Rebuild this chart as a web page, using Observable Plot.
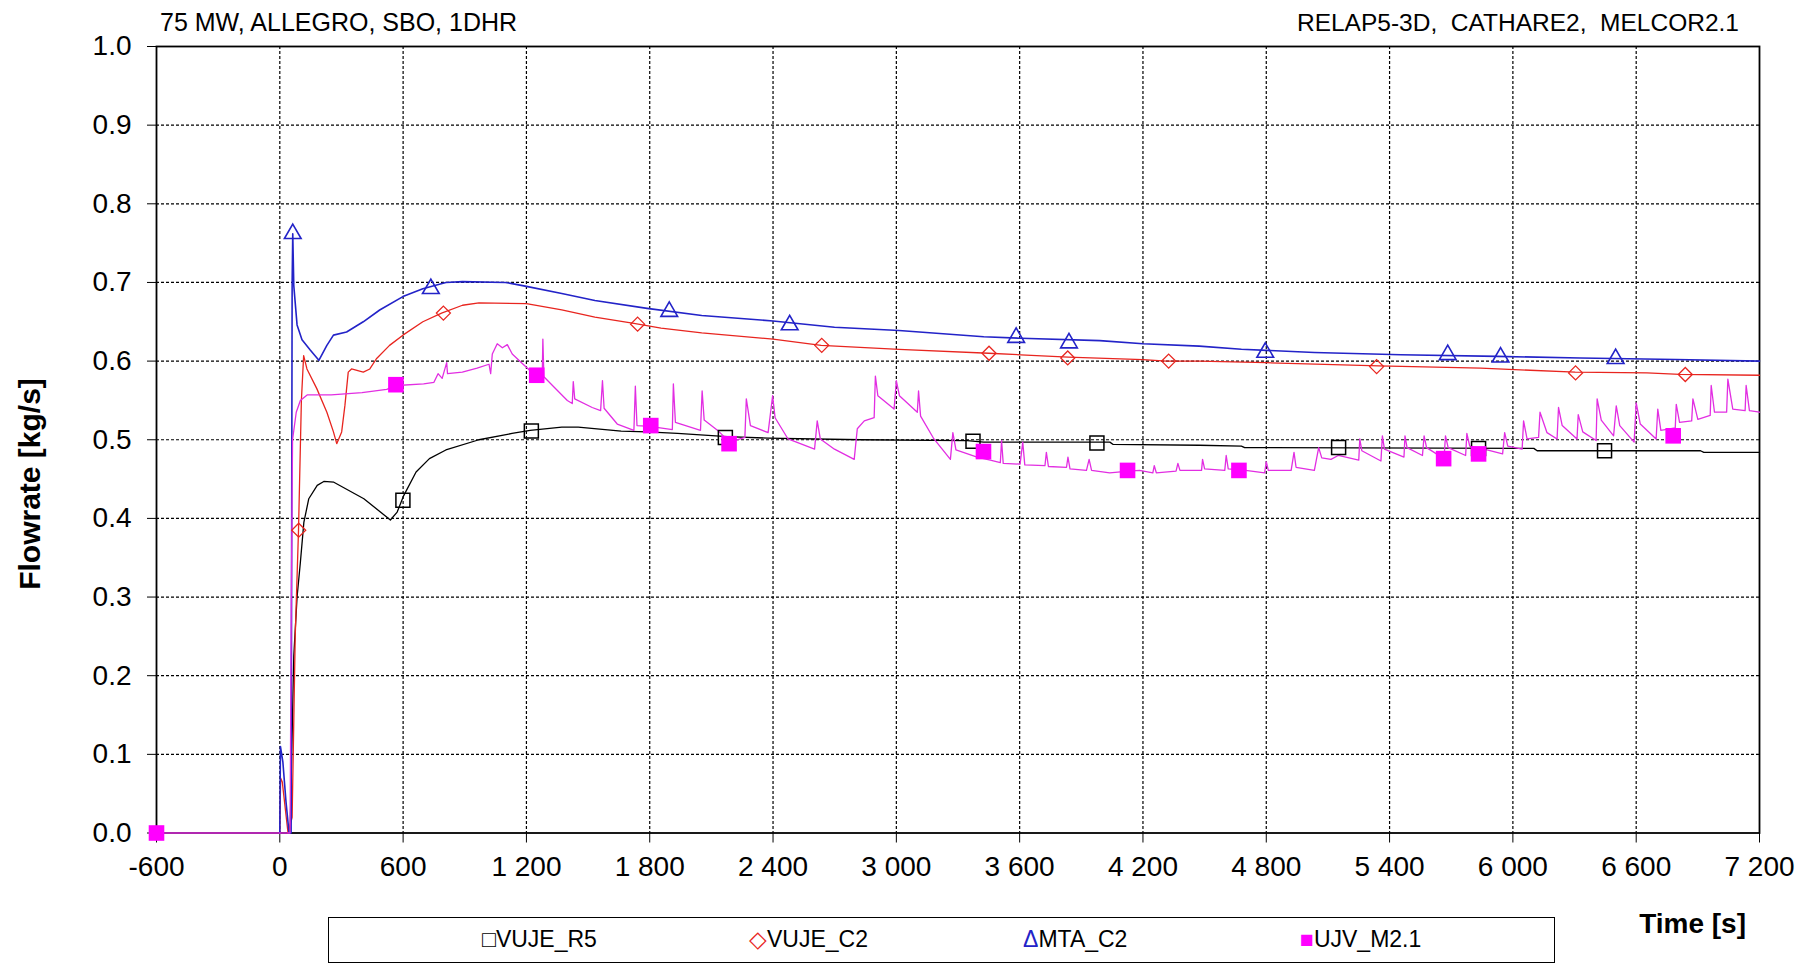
<!DOCTYPE html>
<html>
<head>
<meta charset="utf-8">
<script src="https://cdn.jsdelivr.net/npm/d3@7"></script>
<script src="https://cdn.jsdelivr.net/npm/@observablehq/plot@0.6"></script>
<style>
  html, body { margin: 0; padding: 0; background: #fff; }
  #wrap { position: relative; width: 1813px; height: 964px; overflow: hidden; font-family: "Liberation Sans", Arial, sans-serif; color: #000; }
  #wrap svg { position: absolute; left: 0; top: 0; }
  .lbl { position: absolute; white-space: pre; }
</style>
</head>
<body>
<div id="wrap"></div>
<script>
// ---- data (time [s], flowrate [kg/s]) ----
const xTicks = [-600, 0, 600, 1200, 1800, 2400, 3000, 3600, 4200, 4800, 5400, 6000, 6600, 7200];
const yTicks = [0, 0.1, 0.2, 0.3, 0.4, 0.5, 0.6, 0.7, 0.8, 0.9, 1.0];
const seriesNames = ["VUJE_R5", "VUJE_C2", "MTA_C2", "UJV_M2.1"];
const seriesColors = ["#000000", "#e8251f", "#2323c8", "#e22ee2"];

const VUJE_R5 = [[0,0],[50,0],[58,0.1],[68,0.225],[84,0.30],[100,0.344],[117,0.395],[141,0.425],[182,0.442],[214,0.447],[263,0.446],[409,0.425],[538,0.398],[571,0.408],[603,0.429],[663,0.459],[728,0.476],[808,0.487],[969,0.500],[1130,0.508],[1218,0.512],[1372,0.516],[1452,0.516],[1661,0.511],[1787,0.510],[1935,0.508],[2177,0.504],[2376,0.502],[2828,0.500],[3345,0.499],[3425,0.497],[4039,0.497],[4055,0.494],[4474,0.493],[4679,0.492],[4695,0.490],[6102,0.489],[6118,0.486],[6913,0.486],[6929,0.484],[7200,0.484]];
const VUJE_C2 = [[0,0],[4,0.07],[12,0.065],[40,0.0],[60,0.02],[75,0.25],[91,0.385],[105,0.55],[116,0.607],[132,0.590],[180,0.565],[229,0.535],[261,0.510],[277,0.495],[301,0.510],[317,0.544],[333,0.586],[349,0.590],[406,0.586],[438,0.590],[470,0.603],[534,0.620],[599,0.633],[696,0.650],[787,0.661],[889,0.671],[969,0.674],[1200,0.673],[1372,0.665],[1533,0.656],[1723,0.648],[1855,0.642],[2053,0.636],[2400,0.628],[2634,0.620],[3013,0.615],[3449,0.610],[3606,0.608],[3836,0.605],[4200,0.602],[4313,0.600],[4474,0.600],[4800,0.598],[5347,0.594],[5843,0.591],[6303,0.586],[6652,0.585],[6813,0.583],[7200,0.582]];
const MTA_C2 = [[0,0],[3,0.11],[15,0.09],[30,0.04],[45,0.0],[55,0.0],[60,0.70],[63,0.762],[68,0.696],[84,0.646],[108,0.627],[148,0.614],[190,0.601],[229,0.620],[261,0.633],[325,0.637],[406,0.650],[486,0.665],[599,0.682],[696,0.692],[808,0.700],[889,0.701],[1098,0.700],[1200,0.695],[1372,0.686],[1533,0.677],[1787,0.667],[2053,0.658],[2400,0.651],[2699,0.643],[3013,0.639],[3425,0.631],[3606,0.629],[3990,0.626],[4200,0.622],[4474,0.619],[4679,0.615],[5034,0.611],[5455,0.608],[5924,0.606],[6328,0.604],[6792,0.602],[7200,0.600]];
const UJV_M21 = [[-600,0],[50,0],[56,0.30],[62,0.50],[80,0.535],[100,0.550],[133,0.557],[250,0.557],[400,0.560],[520,0.564],[571,0.569],[700,0.571],[750,0.573],[770,0.584],[790,0.578],[812,0.598],[816,0.584],[888,0.586],[960,0.591],[1018,0.596],[1026,0.584],[1034,0.609],[1058,0.622],[1083,0.617],[1107,0.621],[1131,0.609],[1180,0.597],[1242,0.582],[1277,0.582],[1280,0.628],[1285,0.580],[1334,0.567],[1399,0.550],[1423,0.546],[1428,0.574],[1435,0.552],[1520,0.541],[1561,0.537],[1570,0.575],[1578,0.540],[1642,0.520],[1723,0.512],[1730,0.568],[1738,0.518],[1800,0.517],[1910,0.513],[1915,0.571],[1925,0.522],[2047,0.512],[2055,0.562],[2065,0.525],[2134,0.511],[2190,0.497],[2263,0.503],[2270,0.552],[2290,0.518],[2376,0.509],[2398,0.556],[2410,0.528],[2473,0.501],[2602,0.488],[2615,0.524],[2630,0.501],[2699,0.488],[2795,0.475],[2810,0.514],[2844,0.524],[2892,0.528],[2898,0.581],[2910,0.556],[2989,0.539],[3000,0.575],[3015,0.556],[3102,0.535],[3108,0.562],[3118,0.530],[3183,0.501],[3263,0.475],[3275,0.509],[3290,0.487],[3393,0.478],[3457,0.474],[3506,0.471],[3512,0.499],[3520,0.470],[3602,0.469],[3615,0.497],[3625,0.468],[3723,0.467],[3730,0.484],[3740,0.466],[3828,0.465],[3835,0.478],[3845,0.463],[3925,0.461],[3938,0.475],[3950,0.461],[4038,0.458],[4130,0.460],[4183,0.461],[4248,0.458],[4255,0.467],[4265,0.458],[4361,0.460],[4370,0.470],[4380,0.461],[4485,0.461],[4490,0.475],[4500,0.463],[4598,0.461],[4605,0.480],[4615,0.463],[4700,0.461],[4792,0.458],[4800,0.472],[4810,0.461],[4921,0.461],[4935,0.484],[4945,0.465],[5034,0.461],[5055,0.490],[5070,0.477],[5115,0.475],[5150,0.480],[5250,0.474],[5255,0.501],[5265,0.486],[5358,0.473],[5365,0.505],[5375,0.488],[5470,0.478],[5475,0.505],[5485,0.490],[5560,0.480],[5568,0.505],[5580,0.490],[5665,0.476],[5672,0.505],[5685,0.490],[5770,0.480],[5776,0.508],[5790,0.492],[5860,0.488],[5950,0.482],[5960,0.509],[5975,0.492],[6045,0.488],[6052,0.524],[6069,0.501],[6125,0.503],[6132,0.535],[6166,0.509],[6215,0.501],[6222,0.541],[6240,0.518],[6312,0.501],[6318,0.532],[6340,0.510],[6405,0.499],[6410,0.552],[6430,0.525],[6490,0.505],[6503,0.543],[6520,0.518],[6590,0.497],[6600,0.547],[6620,0.520],[6697,0.501],[6705,0.539],[6720,0.512],[6790,0.515],[6795,0.545],[6811,0.522],[6870,0.524],[6876,0.552],[6900,0.526],[6960,0.531],[6965,0.569],[6981,0.535],[7040,0.535],[7046,0.577],[7070,0.539],[7130,0.537],[7135,0.569],[7151,0.537],[7200,0.535]];

// marker positions
const VUJE_R5_marks = [[599,0.423],[1224,0.511],[2168,0.503],[3373,0.498],[3976,0.496],[5152,0.490],[5833,0.489],[6446,0.486]];
const VUJE_C2_marks = [[92,0.385],[796,0.661],[1741,0.647],[2637,0.620],[3451,0.610],[3834,0.604],[4325,0.600],[5337,0.593],[6305,0.585],[6839,0.583]];
const MTA_C2_marks = [[63,0.762],[735,0.692],[1895,0.663],[2481,0.646],[3583,0.630],[3840,0.623],[4795,0.611],[5683,0.608],[5940,0.605],[6500,0.603]];
const UJV_M21_marks = [[-600,0],[565,0.570],[1250,0.582],[1805,0.518],[2186,0.495],[3424,0.485],[4125,0.461],[4667,0.461],[5663,0.476],[5833,0.482],[6780,0.505]];

// ---- build ----
const fmtX = d => String(d).replace(/\B(?=(\d{3})+(?!\d))/g, " ");
const fmtY = d => d.toFixed(1);
const toRows = arr => arr.map(([t, v]) => ({t, v}));
const xGrid = xTicks.filter(d => d !== xTicks[0] && d !== xTicks[xTicks.length - 1]);
const yGrid = yTicks.filter(d => d !== yTicks[0] && d !== yTicks[yTicks.length - 1]);

const lineStyle = {x: "t", y: "v", strokeWidth: 1.4, strokeLinejoin: "round"};

const chart = Plot.plot({
  width: 1813,
  height: 964,
  marginTop: 46,
  marginRight: 54,
  marginBottom: 131.5,
  marginLeft: 156,
  style: {fontFamily: '"Liberation Sans", Arial, sans-serif', fontSize: "28px", background: "transparent", color: "#000"},
  x: {domain: [xTicks[0], xTicks[xTicks.length - 1]], ticks: xTicks, tickFormat: fmtX, tickSize: 10, tickPadding: 13, label: null},
  y: {domain: [yTicks[0], yTicks[yTicks.length - 1]], ticks: yTicks, tickFormat: fmtY, tickSize: 9, tickPadding: 16, label: null},
  marks: [
    Plot.ruleX(xGrid, {stroke: "#000", strokeWidth: 1.2, strokeDasharray: "3,2"}),
    Plot.ruleY(yGrid, {stroke: "#000", strokeWidth: 1.2, strokeDasharray: "3,2"}),
    Plot.frame({stroke: "#000", strokeWidth: 1.8}),
    Plot.line(toRows(VUJE_R5), {...lineStyle, stroke: seriesColors[0], strokeWidth: 1.3}),
    Plot.line(toRows(VUJE_C2), {...lineStyle, stroke: seriesColors[1], strokeWidth: 1.3}),
    Plot.line(toRows(MTA_C2), {...lineStyle, stroke: seriesColors[2], strokeWidth: 1.6}),
    Plot.line(toRows(UJV_M21), {...lineStyle, stroke: seriesColors[3], strokeWidth: 1.3}),
    Plot.dot(toRows(VUJE_R5_marks), {x: "t", y: "v", symbol: "square", r: 7.9, stroke: seriesColors[0], fill: "none", strokeWidth: 1.5}),
    Plot.dot(toRows(VUJE_C2_marks), {x: "t", y: "v", symbol: "diamond2", r: 6.3, stroke: seriesColors[1], fill: "none", strokeWidth: 1.3}),
    Plot.dot(toRows(MTA_C2_marks), {x: "t", y: "v", symbol: "triangle", r: 6.2, stroke: seriesColors[2], fill: "none", strokeWidth: 1.6}),
    Plot.dot(toRows(UJV_M21_marks), {x: "t", y: "v", symbol: "square", r: 8.8, fill: "#ff00ff", stroke: "none"})
  ]
});

const wrap = document.getElementById("wrap");
wrap.appendChild(chart);

function addLabel(text, css) {
  const d = document.createElement("div");
  d.className = "lbl";
  d.textContent = text;
  Object.assign(d.style, css);
  wrap.appendChild(d);
  return d;
}

addLabel("75 MW, ALLEGRO, SBO, 1DHR", {left: "160px", top: "10px", fontSize: "25px", lineHeight: "25px"});
addLabel("RELAP5-3D,  CATHARE2,  MELCOR2.1", {right: "74px", top: "10px", fontSize: "24.5px", lineHeight: "25px"});
addLabel("Flowrate [kg/s]", {left: "30px", top: "484px", fontSize: "30px", lineHeight: "30px", fontWeight: "bold", transform: "translate(-50%,-50%) rotate(-90deg)"});
addLabel("Time [s]", {right: "67px", top: "910px", fontSize: "28px", lineHeight: "28px", fontWeight: "bold"});

// legend
const box = document.createElement("div");
Object.assign(box.style, {position: "absolute", left: "328px", top: "917px", width: "1227px", height: "46px", boxSizing: "border-box", border: "1.6px solid #000"});
wrap.appendChild(box);
const legendSymbols = ["\u25A1", "\u25C7", "\u0394", "\u25A0"];
const legendX = [482, 749, 1023, 1300];
seriesNames.forEach((name, i) => {
  const d = document.createElement("div");
  d.className = "lbl";
  Object.assign(d.style, {left: legendX[i] + "px", top: "928px", fontSize: "23px", lineHeight: "23px"});
  const s = document.createElement("span");
  s.textContent = legendSymbols[i];
  s.style.color = seriesColors[i] === "#e22ee2" ? "#ff00ff" : seriesColors[i];
  d.appendChild(s);
  d.appendChild(document.createTextNode(name));
  wrap.appendChild(d);
});
</script>
</body>
</html>
